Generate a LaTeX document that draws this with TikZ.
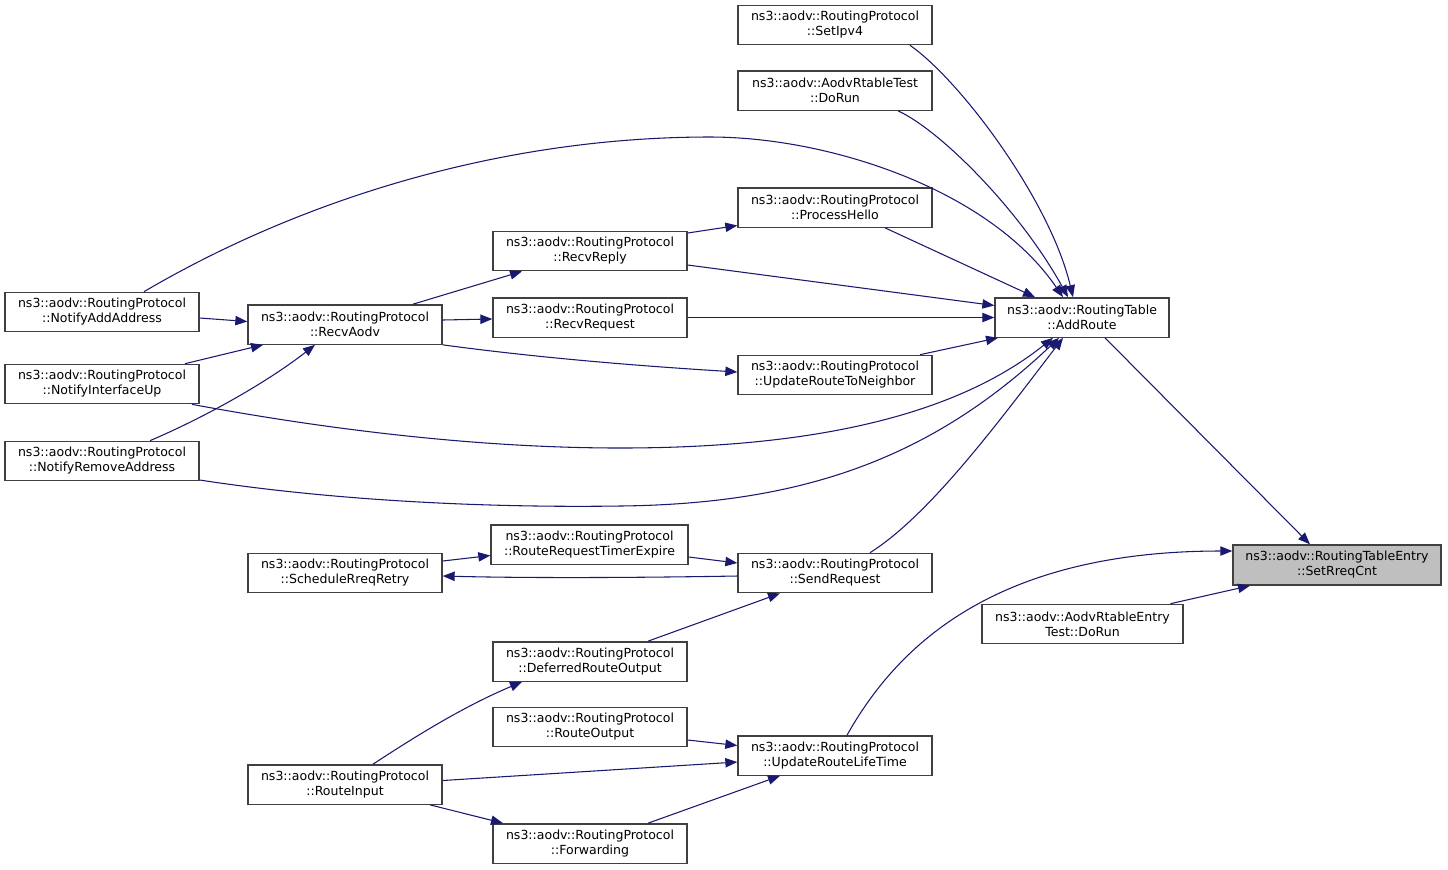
\documentclass[tikz,border=0pt]{standalone}
\usepackage{fontspec}
\setmainfont{DejaVu Sans}
\usetikzlibrary{arrows.meta,calc}
\definecolor{edgeblue}{HTML}{191970}
\definecolor{boxgray}{HTML}{404040}
\definecolor{hlfill}{HTML}{BFBFBF}
\tikzset{
  fn/.style={draw=boxgray,line width=1pt,rectangle,inner sep=0pt,align=center,
    minimum width=145.5pt,minimum height=29.5pt,fill=white,
    font=\fontsize{9.4}{11.25}\selectfont},
  edge/.style={draw=edgeblue,line width=0.8pt,-{Triangle[length=9pt,width=7pt]}}
}
\begin{document}
\begin{tikzpicture}[x=0.75pt,y=-0.75pt]
\useasboundingbox (0,0) rectangle (1448,869);
% nodes
\node[fn,fill=hlfill,minimum width=156pt,minimum height=30pt] (setrreq) at (1337,565) {ns3::aodv::RoutingTableEntry\\::SetRreqCnt};
\node[fn,minimum width=130.5pt] (addroute) at (1082,317.5) {ns3::aodv::RoutingTable\\::AddRoute};
\node[fn] (setipv4) at (835,25) {ns3::aodv::RoutingProtocol\\::SetIpv4};
\node[fn] (arttest) at (835,90.5) {ns3::aodv::AodvRtableTest\\::DoRun};
\node[fn] (phello) at (835,207.5) {ns3::aodv::RoutingProtocol\\::ProcessHello};
\node[fn] (rreply) at (590,251) {ns3::aodv::RoutingProtocol\\::RecvReply};
\node[fn] (rreq) at (590,317.5) {ns3::aodv::RoutingProtocol\\::RecvRequest};
\node[fn] (urtn) at (835,375) {ns3::aodv::RoutingProtocol\\::UpdateRouteToNeighbor};
\node[fn] (raodv) at (345,324.5) {ns3::aodv::RoutingProtocol\\::RecvAodv};
\node[fn] (nadd) at (102,312) {ns3::aodv::RoutingProtocol\\::NotifyAddAddress};
\node[fn] (nifup) at (102,384) {ns3::aodv::RoutingProtocol\\::NotifyInterfaceUp};
\node[fn] (nrem) at (102,461) {ns3::aodv::RoutingProtocol\\::NotifyRemoveAddress};
\node[fn,minimum width=147.75pt] (rrte) at (589.5,544.5) {ns3::aodv::RoutingProtocol\\::RouteRequestTimerExpire};
\node[fn] (sreq) at (835,573) {ns3::aodv::RoutingProtocol\\::SendRequest};
\node[fn] (srr) at (345,573) {ns3::aodv::RoutingProtocol\\::ScheduleRreqRetry};
\node[fn,minimum width=150.75pt] (aentry) at (1082.5,624) {ns3::aodv::AodvRtableEntry\\Test::DoRun};
\node[fn] (dro) at (590,661.5) {ns3::aodv::RoutingProtocol\\::DeferredRouteOutput};
\node[fn] (rout) at (590,727) {ns3::aodv::RoutingProtocol\\::RouteOutput};
\node[fn] (ulife) at (835,755.5) {ns3::aodv::RoutingProtocol\\::UpdateRouteLifeTime};
\node[fn] (rin) at (345,784.5) {ns3::aodv::RoutingProtocol\\::RouteInput};
\node[fn] (fwd) at (590,843.5) {ns3::aodv::RoutingProtocol\\::Forwarding};
% edges to SetRreqCnt
\draw[edge] ($(addroute.south)+(23,0)$) -- ($(setrreq.north)+(-27,0)$);
\draw[edge] ($(ulife.north)+(12,0)$) .. controls (895,650) and (990,551) .. ($(setrreq.west)+(0,-14)$);
\draw[edge] ($(aentry.north)+(88,0)$) -- ($(setrreq.south)+(-87,0)$);
% edges to AddRoute
\draw[edge] ($(setipv4.south)+(75,0)$) .. controls (960,80) and (1050,200) .. ($(addroute.north)+(-9,0)$);
\draw[edge] ($(arttest.south)+(63,0)$) .. controls (940,130) and (1020,210) .. ($(addroute.north)+(-14,0)$);
\draw[edge] ($(nadd.north)+(42,0)$) .. controls (300,200) and (500,137) .. (710,137)
  .. controls (830,137) and (990,190) .. ($(addroute.north)+(-19,0)$);
\draw[edge] ($(phello.south)+(50,0)$) -- ($(addroute.north)+(-47,0)$);
\draw[edge] ($(rreply.east)+(0,14)$) -- ($(addroute.west)+(0,-12)$);
\draw[edge] (rreq.east) -- (addroute.west);
\draw[edge] ($(urtn.north)+(85,0)$) -- ($(addroute.south)+(-84,0)$);
\draw[edge] ($(nifup.south)+(90,0)$) .. controls (330,430) and (480,448) .. (620,448)
  .. controls (800,448) and (950,420) .. ($(addroute.south)+(-29,0)$);
\draw[edge] ($(nrem.east)+(0,19)$) .. controls (330,500) and (480,508) .. (620,506)
  .. controls (800,504) and (930,460) .. ($(addroute.south)+(-23,0)$);
\draw[edge] ($(sreq.north)+(35,0)$) .. controls (930,515) and (1000,420) .. ($(addroute.south)+(-19,0)$);
% other edges
\draw[edge] ($(rreply.east)+(0,-18)$) -- ($(phello.west)+(0,18)$);
\draw[edge] ($(raodv.north)+(68,0)$) -- ($(rreply.south)+(-68,0)$);
\draw[edge] ($(raodv.east)+(0,-4.5)$) -- ($(rreq.west)+(0,1.5)$);
\draw[edge] (raodv.south east) .. controls (540,358) and (640,366) .. ($(urtn.west)+(0,-3)$);
\draw[edge] ($(nadd.east)+(0,6)$) -- ($(raodv.west)+(0,-3)$);
\draw[edge] ($(nifup.north)+(83,0)$) -- ($(raodv.south)+(-82,0)$);
\draw[edge] ($(nrem.north)+(48,0)$) .. controls (210,415) and (270,380) .. ($(raodv.south)+(-30,0)$);
\draw[edge] ($(srr.east)+(0,-12)$) -- ($(rrte.west)+(0,11)$);
\draw[edge] ($(sreq.west)+(0,3)$) .. controls (620,578) and (520,578) .. ($(srr.east)+(0,3)$);
\draw[edge] ($(rrte.east)+(0,12.5)$) -- ($(sreq.west)+(0,-10)$);
\draw[edge] ($(dro.north)+(58,0)$) -- ($(sreq.south)+(-55,0)$);
\draw[edge] ($(rin.north)+(28,0)$) .. controls (410,740) and (460,708) .. ($(dro.south)+(-68,0)$);
\draw[edge] ($(rout.east)+(0,13)$) -- ($(ulife.west)+(0,-10)$);
\draw[edge] ($(rin.east)+(0,-4)$) -- ($(ulife.west)+(0,6.5)$);
\draw[edge] ($(fwd.north)+(58,0)$) -- ($(ulife.south)+(-55,0)$);
\draw[edge] ($(rin.south)+(85,0)$) -- ($(fwd.north)+(-87,0)$);
\end{tikzpicture}
\end{document}
